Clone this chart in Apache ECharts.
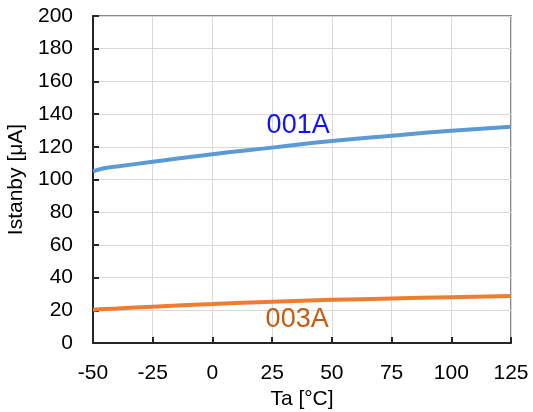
<!DOCTYPE html>
<html>
<head>
<meta charset="utf-8">
<script src="https://cdn.jsdelivr.net/npm/echarts@6/dist/echarts.min.js"></script>
<style>html,body{margin:0;padding:0;background:#fff;}#c{width:533px;height:412px;}</style>
</head>
<body>
<div id="c"></div>
<script>
var temps = [-50, -45, -40, -25, 0, 25, 50, 75, 100, 125];
var seriesA = [105, 107, 108, 110.8, 115.5, 119.5, 123.5, 126.8, 129.8, 132.3];
var seriesB = [20.3, 20.8, 21.1, 22.2, 23.8, 25.3, 26.4, 27.2, 28, 28.8];
var seriesNames = ['001A', '003A'];
var labelAt = 25;

var FONT = 'Liberation Sans, Arial, sans-serif';

function build(vals, name, opts) {
  return temps.map(function (t, i) {
    var item = { value: [t, vals[i]] };
    if (t === labelAt) {
      item.label = {
        show: true,
        formatter: name,
        position: 'inside',
        offset: opts.offset,
        color: opts.labelColor,
        fontSize: 27,
        fontFamily: FONT
      };
    }
    return item;
  });
}

var chart = echarts.init(document.getElementById('c'));
chart.setOption({
  animation: false,
  backgroundColor: '#fff',
  grid: { left: 93, right: 22, top: 16, bottom: 69, show: true, borderColor: '#898989', borderWidth: 2, backgroundColor: 'transparent', outerBoundsMode: 'none', containLabel: false },
  xAxis: {
    type: 'value', min: -50, max: 125, interval: 25,
    name: 'Ta [°C]', nameLocation: 'middle', nameGap: 44,
    nameTextStyle: { color: '#000', fontSize: 21, fontFamily: FONT },
    axisLine: { show: true, onZero: false, lineStyle: { color: '#262626', width: 2 } },
    axisTick: { show: true, inside: true, length: 6, lineStyle: { color: '#262626', width: 2 } },
    axisLabel: { color: '#000', fontSize: 21, fontFamily: FONT, margin: 20 },
    splitLine: { show: true, lineStyle: { color: '#d9d9d9', width: 1 } }
  },
  yAxis: {
    type: 'value', min: 0, max: 200, interval: 20,
    name: 'Istanby [μA]', nameLocation: 'middle', nameGap: 60,
    nameTextStyle: { color: '#000', fontSize: 21, fontFamily: FONT },
    axisLine: { show: true, onZero: false, lineStyle: { color: '#262626', width: 2 } },
    axisTick: { show: true, inside: true, length: 6, lineStyle: { color: '#262626', width: 2 } },
    axisLabel: { color: '#000', fontSize: 21, fontFamily: FONT, margin: 20 },
    splitLine: { show: true, lineStyle: { color: '#d9d9d9', width: 1 } }
  },
  series: [
    {
      name: seriesNames[0], type: 'line', smooth: true, symbol: 'circle', symbolSize: 0, showSymbol: true,
      lineStyle: { color: '#5b9bd5', width: 4 }, itemStyle: { color: '#5b9bd5' },
      data: build(seriesA, seriesNames[0], { offset: [26, -22], labelColor: '#1010ff' })
    },
    {
      name: seriesNames[1], type: 'line', smooth: true, symbol: 'circle', symbolSize: 0, showSymbol: true,
      lineStyle: { color: '#ed7d31', width: 4 }, itemStyle: { color: '#ed7d31' },
      data: build(seriesB, seriesNames[1], { offset: [25, 18], labelColor: '#c55a11' })
    }
  ]
});
</script>
</body>
</html>
